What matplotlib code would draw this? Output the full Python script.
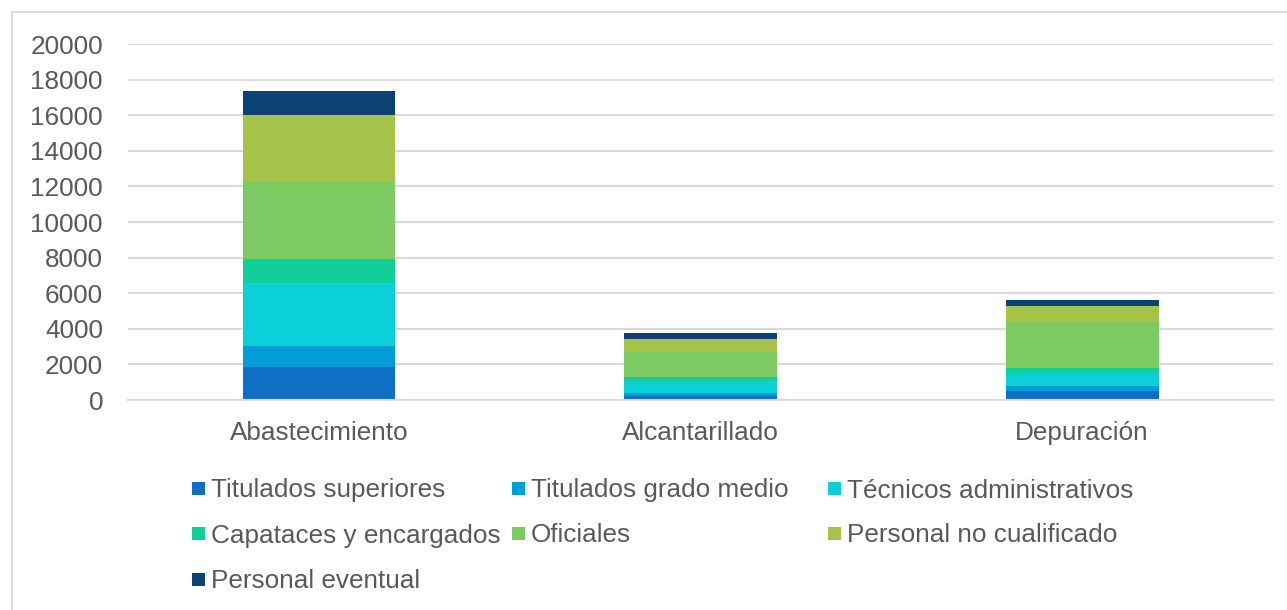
import matplotlib
matplotlib.use("Agg")
import matplotlib.pyplot as plt
from matplotlib.patches import Rectangle
from matplotlib.lines import Line2D
import numpy as np

plt.rcParams['font.family'] = ['Liberation Sans', 'DejaVu Sans']

categories = ["Abastecimiento", "Alcantarillado", "Depuración"]
series_names = ["Titulados superiores", "Titulados grado medio", "Técnicos administrativos",
                "Capataces y encargados", "Oficiales", "Personal no cualificado",
                "Personal eventual"]
titulados_superiores = [1840, 230, 500]
titulados_grado_medio = [1200, 190, 290]
tecnicos_administrativos = [3520, 650, 650]
capataces_encargados = [1350, 240, 370]
oficiales = [4360, 1400, 2590]
personal_no_cualificado = [3750, 720, 880]
personal_eventual = [1350, 320, 340]
series_values = [titulados_superiores, titulados_grado_medio, tecnicos_administrativos,
                 capataces_encargados, oficiales, personal_no_cualificado, personal_eventual]
colors = ["#0F6FC6", "#009DD9", "#0BD0D9", "#10CF9B", "#7CCA62", "#A5C249", "#0A4275"]
y_ticks = [0, 2000, 4000, 6000, 8000, 10000, 12000, 14000, 16000, 18000, 20000]

W, H = 1287, 610
fig = plt.figure(figsize=(W / 100, H / 100), dpi=100)
fig.patch.set_facecolor("white")

ax = fig.add_axes([128 / W, 1 - 400 / H, (1273 - 128) / W, (400 - 44) / H])
text_color = "#595959"
grid_color = "#D9D9D9"
fs = 18.8

x = np.arange(len(categories))
bottom = np.zeros(len(categories))
bars = []
for name, vals, c in zip(series_names, series_values, colors):
    b = ax.bar(x, vals, width=0.4, bottom=bottom, color=c, label=name, linewidth=0, zorder=3)
    bars.append(b)
    bottom += np.array(vals)

ax.set_xlim(-0.5, len(categories) - 0.5)
ax.set_ylim(0, 20000)
ax.set_yticks(y_ticks)
ax.set_yticklabels([str(v) for v in y_ticks])
ax.set_xticks(x)
ax.set_xticklabels(categories)
ax.tick_params(axis='both', length=0, labelsize=fs, colors=text_color)
ax.tick_params(axis='y', pad=18)
ax.tick_params(axis='x', pad=15)
ax.yaxis.grid(True, color=grid_color, linewidth=1.5, zorder=0)
for s in ['top', 'right', 'left']:
    ax.spines[s].set_visible(False)
ax.spines['bottom'].set_color(grid_color)
ax.spines['bottom'].set_linewidth(1.5)
ax.spines['bottom'].set_zorder(4)

# chart border (left and top edges visible)
fig.add_artist(Line2D([12 / W, 12 / W], [0, 1 - 12 / H], transform=fig.transFigure,
                      color=grid_color, linewidth=1.4))
fig.add_artist(Line2D([12 / W, 1], [1 - 12 / H, 1 - 12 / H], transform=fig.transFigure,
                      color=grid_color, linewidth=1.4))

# legend laid out in three fixed columns
col_x = [192, 512, 828]
row_y = [488, 533, 579]
sq = 13
for i, (name, b) in enumerate(zip(series_names, bars)):
    cx = col_x[i % 3]
    cy = row_y[i // 3]
    col = b.patches[0].get_facecolor()
    fig.add_artist(Rectangle((cx / W, 1 - (cy + sq / 2) / H), sq / W, sq / H,
                             transform=fig.transFigure, facecolor=col, edgecolor='none'))
    fig.text((cx + sq + 6) / W, 1 - cy / H, name, fontsize=fs, color=text_color,
             va='center_baseline', ha='left')

fig.savefig("out.png", dpi=100, facecolor="white")
